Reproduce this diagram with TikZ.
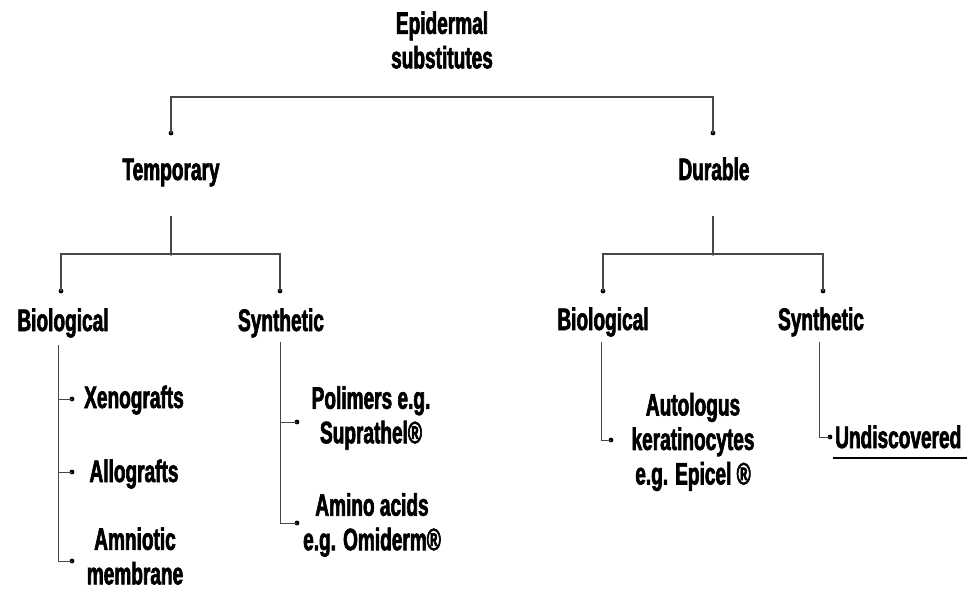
\documentclass[tikz,border=0pt]{standalone}
\usepackage{fontspec}
\newfontfamily\condfont{Liberation Sans}[FakeStretch=0.615,FakeBold=2]
\begin{document}
\begin{tikzpicture}[x=1pt,y=-1pt,
  lbl/.style={font=\condfont\bfseries\fontsize{31}{34.5}\selectfont, inner sep=0pt, align=center, text=black},
  conn/.style={draw=black!72, line width=1.3pt},
  dotmark/.style={circle, fill=black, inner sep=0pt, minimum size=4.8pt},
  jn/.style={circle, fill=black, inner sep=0pt, minimum size=3.5pt}]
\useasboundingbox[fill=white] (0,0) rectangle (967,591);

% text nodes
\node[lbl] (epi) at (442,40) {Epidermal\\substitutes};
\node[lbl, anchor=base] (tmp) at (171,180) {Temporary};
\node[lbl, anchor=base] (dur) at (714,180) {Durable};
\node[lbl, anchor=base] (bioL) at (63,331) {Biological};
\node[lbl, anchor=base] (synL) at (281,331) {Synthetic};
\node[lbl, anchor=base] (bioR) at (603,330) {Biological};
\node[lbl, anchor=base] (synR) at (821,330) {Synthetic};
\node[lbl, anchor=base] (xeno) at (134,408) {Xenografts};
\node[lbl, anchor=base] (allo) at (134,482) {Allografts};
\node[lbl] (amnio) at (135,556) {Amniotic\\membrane};
\node[lbl] (poli) at (371,418) {Polimers e.g.\\Suprathel®};
\node[lbl] (amino) at (372,525) {Amino acids\\e.g. Omiderm®};
\node[lbl] (auto) at (693,442) {Autologus\\keratinocytes\\e.g. Epicel ®};
\node[lbl, anchor=base west] (undisc) at (835,448) {Undiscovered};

% dots (connector ends)
\node[dotmark] (dT) at (171,133) {};
\node[dotmark] (dD) at (713,133) {};
\node[jn] (jT) at (171,254) {};
\node[jn] (jD) at (713,254) {};
\node[dotmark] (dBL) at (61,291) {};
\node[dotmark] (dSL) at (280,291) {};
\node[dotmark] (dBR) at (603,291) {};
\node[dotmark] (dSR) at (823,291) {};
\node[dotmark] (dXe) at (72,399) {};
\node[dotmark] (dAl) at (72,472) {};
\node[dotmark] (dAm) at (72,561) {};
\node[dotmark] (dPo) at (297,422) {};
\node[dotmark] (dAa) at (297,523) {};
\node[dotmark] (dAu) at (611,440) {};
\node[dotmark] (dUn) at (830,437) {};

\coordinate (tT) at (171,216);
\coordinate (tD) at (713,216);
\coordinate (vBL) at (58,345);
\coordinate (vSL) at (280,342);
\coordinate (vBR) at (601,342);
\coordinate (vSR) at (819,342);
\coordinate (ulA) at (833,458);
\coordinate (ulB) at (967,458);

% top bracket
\draw[conn] (dT.center) -- ++(0,-36) -| (dD.center);
% second level
\draw[conn] (tT) -- (jT.center);
\draw[conn] (dBL.center) |- (jT.center) -| (dSL.center);
\draw[conn] (tD) -- (jD.center);
\draw[conn] (dBR.center) |- (jD.center) -| (dSR.center);
% lists
\draw[conn, line width=1pt] (vBL) |- (dAm.center);
\draw[conn, line width=1pt] (vBL |- dXe) -- (dXe.center);
\draw[conn, line width=1pt] (vBL |- dAl) -- (dAl.center);
\draw[conn, line width=1pt] (vSL) |- (dAa.center);
\draw[conn, line width=1pt] (vSL |- dPo) -- (dPo.center);
\draw[conn, line width=1pt] (vBR) |- (dAu.center);
\draw[conn, line width=1pt] (vSR) |- (dUn.center);
% underline
\draw[line width=1.6pt, black] (ulA) -- (ulB);
\end{tikzpicture}
\end{document}
